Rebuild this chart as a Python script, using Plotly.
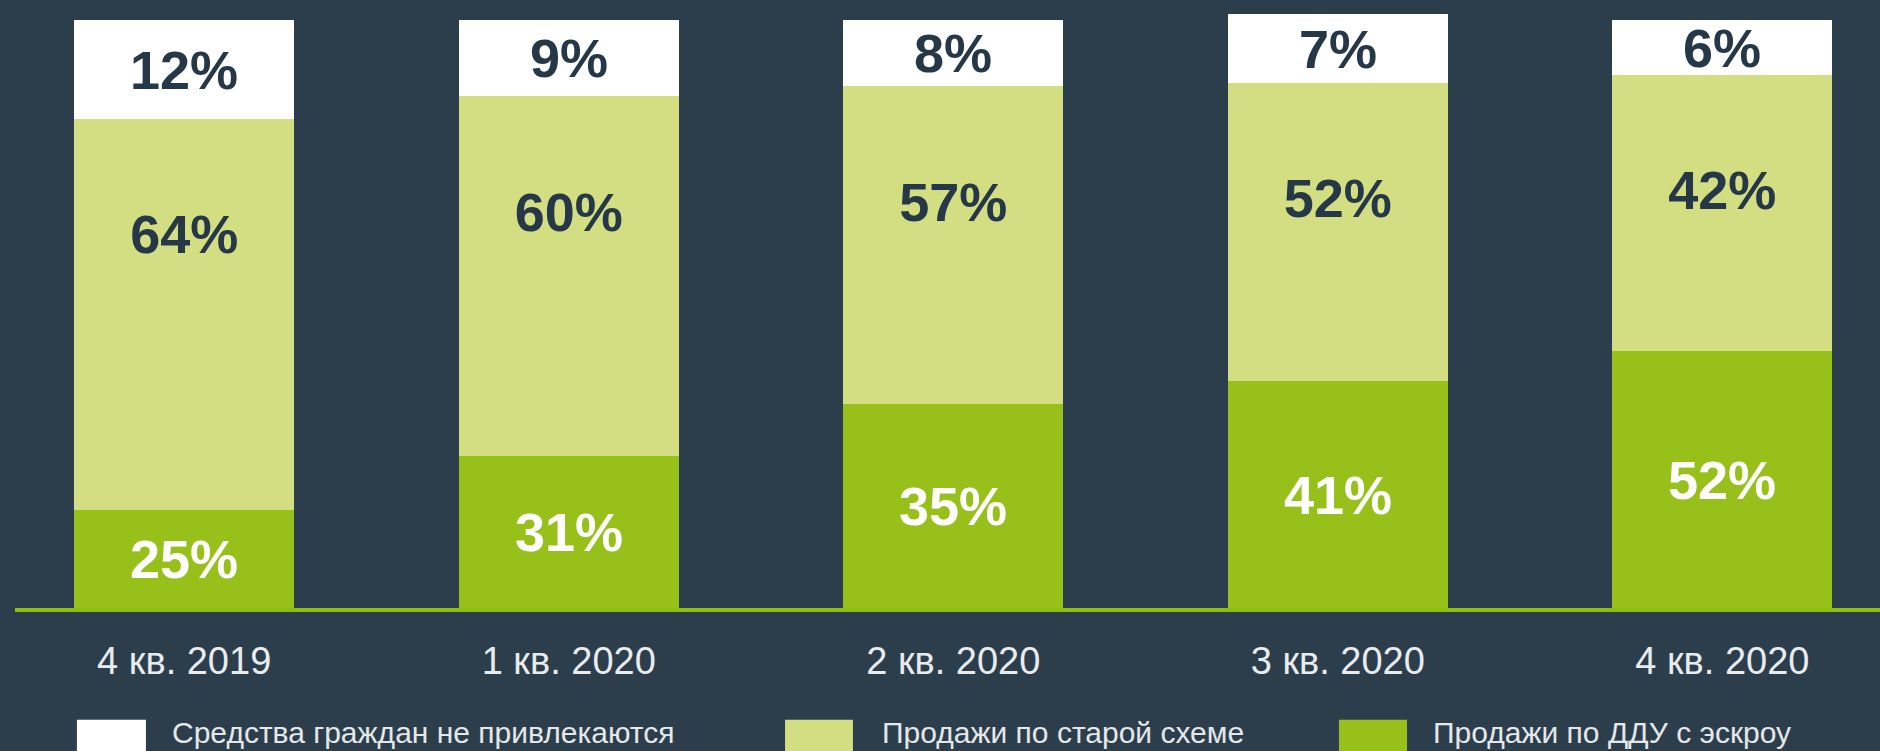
import plotly.graph_objects as go

# ---- data ----
quarters = ["4 кв. 2019", "1 кв. 2020", "2 кв. 2020", "3 кв. 2020", "4 кв. 2020"]
series_names = ["Средства граждан не привлекаются", "Продажи по старой схеме", "Продажи по ДДУ с эскроу"]

# printed labels (%)
label_none = [12, 9, 8, 7, 6]
label_old = [64, 60, 57, 52, 42]
label_escrow = [25, 31, 35, 41, 52]

# segment heights as drawn in the picture (share of bar height, %)
height_none = [16.9, 13.0, 11.3, 11.8, 9.4]
height_old = [66.5, 61.2, 54.0, 50.7, 46.9]
height_escrow = [16.6, 25.8, 34.7, 38.6, 43.7]

# ---- styles ----
BG = "#2c3e4c"
C_WHITE = "#ffffff"
C_LIGHT = "#d3de82"
C_GREEN = "#97c11a"
C_AXIS = "#8fbf0c"
C_DARK = "#263848"
FONT = "Liberation Sans, Arial, sans-serif"
BAR_W = 0.572
OLD_LABEL_DROP = 20.5  # label of the middle segment sits this far below its top

fig = go.Figure()

fig.add_trace(go.Bar(
    x=quarters, y=height_escrow, name=series_names[2], width=BAR_W,
    marker=dict(color=C_GREEN, line=dict(width=0)),
    text=[f"{v}%" for v in label_escrow], textposition="inside",
    insidetextanchor="middle", textangle=0, constraintext="none",
    textfont=dict(family=FONT, size=54, color="#ffffff", weight="bold"),
    cliponaxis=False, hoverinfo="skip", showlegend=False,
))
fig.add_trace(go.Bar(
    x=quarters, y=height_old, name=series_names[1], width=BAR_W,
    marker=dict(color=C_LIGHT, line=dict(width=0)),
    hoverinfo="skip", showlegend=False,
))
fig.add_trace(go.Bar(
    x=quarters, y=height_none, name=series_names[0], width=BAR_W,
    marker=dict(color=C_WHITE, line=dict(width=0)),
    text=[f"{v}%" for v in label_none], textposition="inside",
    insidetextanchor="middle", textangle=0, constraintext="none",
    textfont=dict(family=FONT, size=54, color=C_DARK, weight="bold"),
    cliponaxis=False, hoverinfo="skip", showlegend=False,
))

# labels of the "old scheme" segment sit in the upper part of the segment
old_label_y = [g + o - OLD_LABEL_DROP for g, o in zip(height_escrow, height_old)]
fig.add_trace(go.Scatter(
    x=quarters, y=old_label_y, mode="text",
    text=[f"{v}%" for v in label_old], textposition="middle center",
    textfont=dict(family=FONT, size=54, color=C_DARK, weight="bold"),
    cliponaxis=False, hoverinfo="skip", showlegend=False,
))

# ---- manual legend (large swatches as in the original) ----
legend_colors = [C_WHITE, C_LIGHT, C_GREEN]
swatch_x = [(0.0332, 0.0702), (0.4129, 0.4493), (0.7099, 0.7464)]
text_x = [0.0831, 0.4638, 0.7592]
shapes = []
annotations = []
for name, col, (sx0, sx1), tx in zip(series_names, legend_colors, swatch_x, text_x):
    shapes.append(dict(type="rect", xref="paper", yref="paper",
                       x0=sx0, x1=sx1, y0=-0.188, y1=-0.26,
                       fillcolor=col, line=dict(width=0), layer="above"))
    annotations.append(dict(xref="paper", yref="paper", x=tx, y=-0.209,
                            xanchor="left", yanchor="middle", showarrow=False,
                            text=name, font=dict(family=FONT, size=30, color="#e4e8ea")))

fig.update_layout(
    width=1880, height=751,
    paper_bgcolor=BG, plot_bgcolor=BG,
    margin=dict(l=15, r=0, t=13, b=143),
    barmode="stack", bargap=0,
    showlegend=False,
    shapes=shapes, annotations=annotations,
    xaxis=dict(
        type="category", categoryorder="array", categoryarray=quarters,
        range=[-0.44, 4.41], showgrid=False, zeroline=False,
        showline=True, linecolor=C_AXIS, linewidth=4,
        ticks="", ticklabelstandoff=16,
        tickfont=dict(family=FONT, size=38, color="#e8ecee"),
        fixedrange=True,
    ),
    yaxis=dict(range=[0, 101.2], visible=False, showgrid=False, zeroline=False, fixedrange=True),
)

fig.write_html(
    "out.html",
    config={"displayModeBar": False},
    post_script="document.body.style.margin='0';document.body.style.padding='0';"
                "document.body.style.background='" + BG + "';document.body.style.overflow='hidden';",
)
